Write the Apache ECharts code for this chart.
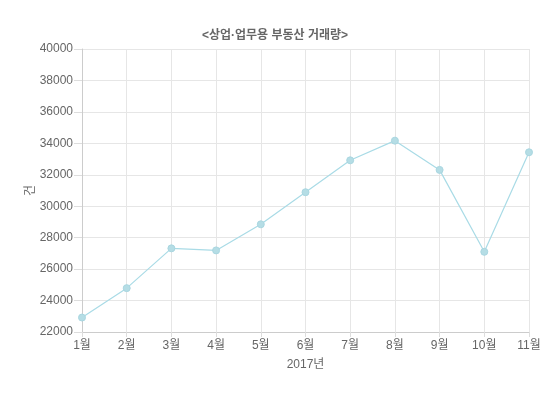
<!DOCTYPE html>
<html><head><meta charset="utf-8">
<script src="https://cdn.jsdelivr.net/npm/echarts@6/dist/echarts.min.js"></script>
<style>html,body{margin:0;padding:0;background:#fff}#c{width:550px;height:395px}</style>
</head><body><div id="c"></div>
<script>
const titleText = '<상업·업무용 부동산 거래량>';
const categories = ['1월','2월','3월','4월','5월','6월','7월','8월','9월','10월','11월'];
const values = [22920, 24790, 27320, 27190, 28850, 30890, 32920, 34170, 32310, 27100, 33430];
const xName = '2017년';
const yName = '건';

const chart = echarts.init(document.getElementById('c'), null, {renderer:'canvas'});
const font = '"Liberation Sans", Arial, "Noto Sans CJK KR", sans-serif';
chart.setOption({
  animation:false,
  title:{text:titleText,left:'center',top:25,textStyle:{fontSize:12,fontWeight:'bold',color:'#666',fontFamily:font}},
  grid:{left:82,right:21,top:49,bottom:63},
  xAxis:{type:'category',data:categories,boundaryGap:false,
    name:xName,nameLocation:'middle',nameGap:27,nameTextStyle:{color:'#666',fontSize:12,fontFamily:font},
    axisLine:{lineStyle:{color:'#ccc'}},
    axisTick:{show:true,length:5,lineStyle:{color:'#ddd'}},
    axisLabel:{color:'#666',fontSize:12,fontFamily:font,margin:8},
    splitLine:{show:true,lineStyle:{color:'#e6e6e6'}}},
  yAxis:{type:'value',min:22000,max:40000,interval:2000,
    name:yName,nameLocation:'middle',nameGap:45,nameMoveOverlap:false,nameTextStyle:{color:'#666',fontSize:12,fontFamily:font},
    axisLine:{show:true,lineStyle:{color:'#ccc'}},
    axisTick:{show:true,length:8,lineStyle:{color:'#ddd'}},
    axisLabel:{color:'#666',fontSize:12,fontFamily:font,margin:9,formatter:function(v){return String(v);}},
    splitLine:{show:true,lineStyle:{color:'#e6e6e6'}}},
  series:[{type:'line',data:values,symbol:'circle',symbolSize:7,
    lineStyle:{color:'#a9dbe6',width:1.2},
    itemStyle:{color:'#b5dde5',borderColor:'#a9d6e0',borderWidth:1}}]
});
</script></body></html>
